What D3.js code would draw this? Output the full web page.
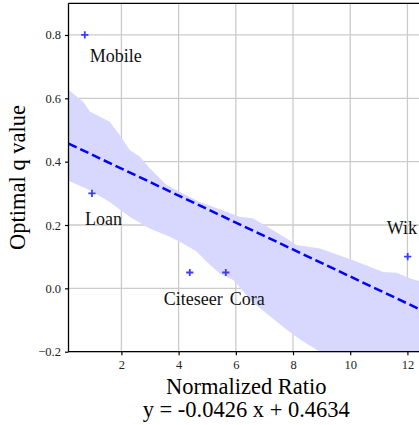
<!DOCTYPE html>
<html>
<head>
<meta charset="utf-8">
<script src="https://cdn.jsdelivr.net/npm/d3@7"></script>
<style>
  body { margin: 0; background: #fff; }
  svg { display: block; font-family: "Times New Roman", "Liberation Serif", serif; }
  .grid line { stroke: #cbcbcb; stroke-width: 1.3; }
  .axis path, .axis line { stroke: #000; stroke-width: 1.2; }
  .axis text { font-size: 12.5px; fill: #222; }
</style>
</head>
<body>
<svg id="chart" width="419" height="425"></svg>
<script>
// datasets (last label is cut by the frame in the original)
let names = ['Mobile', 'Loan', 'Citeseer', 'Cora', 'Wik'];
let ratios = [0.72, 0.97, 4.39, 5.65, 12.01];
let qvalues = [0.80, 0.30, 0.05, 0.05, 0.10];

// fitted line: y = -0.0426 x + 0.4634
let slope = -0.0426;
let intercept = 0.4634;

// confidence band (bootstrap, so edges are bumpy)
let upperX = [0.15, 0.66, 0.9, 1.59, 1.94, 2.29, 2.64, 2.99, 3.58, 4.04, 4.74, 5.44, 6.14, 6.6, 7.77, 8.12, 8.94, 10.1, 11.15, 11.62, 12.08, 12.58];
let upperY = [0.627, 0.589, 0.558, 0.526, 0.484, 0.437, 0.416, 0.379, 0.326, 0.305, 0.273, 0.25, 0.226, 0.221, 0.158, 0.137, 0.126, 0.089, 0.052, 0.049, 0.032, 0.018];
let lowerX = [0.15, 0.9, 1.59, 2.29, 2.99, 3.69, 4.16, 4.63, 4.98, 5.44, 5.91, 6.6, 7.77, 8.3, 8.94, 10.1, 11.15, 12.58];
let lowerY = [0.34, 0.31, 0.273, 0.226, 0.189, 0.163, 0.142, 0.116, 0.084, 0.047, 0.026, -0.045, -0.13, -0.165, -0.2, -0.26, -0.31, -0.38];

let xTicks = [2, 4, 6, 8, 10, 12];
let yTicks = [-0.2, 0.0, 0.2, 0.4, 0.6, 0.8];

let svg = d3.select('#chart');
let plot = {left: 68.5, top: 3.3, right: 424, bottom: 351.7};

let x = d3.scaleLinear().domain([0.15, 12.58]).range([plot.left, plot.right]);
let y = d3.scaleLinear().domain([-0.2, 0.9]).range([plot.bottom, plot.top]);

svg.append('defs').append('clipPath').attr('id', 'clip')
  .append('rect')
  .attr('x', plot.left).attr('y', plot.top)
  .attr('width', plot.right - plot.left).attr('height', plot.bottom - plot.top);

// grid
let grid = svg.append('g').classed('grid', true);
grid.selectAll('.gx').data(xTicks).enter().append('line')
  .attr('x1', d => x(d)).attr('x2', d => x(d))
  .attr('y1', plot.top).attr('y2', plot.bottom);
grid.selectAll('.gy').data(yTicks).enter().append('line')
  .attr('x1', plot.left).attr('x2', plot.right)
  .attr('y1', d => y(d)).attr('y2', d => y(d));

let inner = svg.append('g').attr('clip-path', 'url(#clip)');

// band: upper edge left to right, lower edge back
let bandPts = upperX.map((v, i) => [x(v), y(upperY[i])])
  .concat(lowerX.map((v, i) => [x(v), y(lowerY[i])]).reverse());
inner.append('path')
  .attr('d', d3.line()(bandPts) + 'Z')
  .attr('fill', 'rgb(216,216,255)');

// regression line
let xd = x.domain();
inner.append('path')
  .attr('d', d3.line()(xd.map(v => [x(v), y(slope * v + intercept)])))
  .attr('fill', 'none')
  .attr('stroke', '#0000ff')
  .attr('stroke-width', 2.5)
  .attr('stroke-dasharray', '9,4');

// markers (+)
let m = 3.6;
let marks = inner.selectAll('.pt').data(names).enter().append('g')
  .attr('transform', (d, i) => `translate(${x(ratios[i])},${y(qvalues[i])})`);
marks.append('path')
  .attr('d', `M${-m},0H${m}M0,${-m}V${m}`)
  .attr('stroke', '#3c3cff')
  .attr('stroke-width', 1.8);

// point labels, pixel offsets from each marker
let labelOffsets = {Mobile: [5, 27], Loan: [-7, 32], Citeseer: [-26, 32], Cora: [4, 32], Wik: [-21, -23]};
svg.append('g').selectAll('text').data(names).enter().append('text')
  .attr('x', (d, i) => x(ratios[i]) + labelOffsets[d][0])
  .attr('y', (d, i) => y(qvalues[i]) + labelOffsets[d][1])
  .attr('font-size', '18px')
  .attr('fill', '#111')
  .text(d => d);

// axes (drop d3's sans-serif default so ticks use the serif face)
let xAxis = d3.axisBottom(x).tickValues(xTicks).tickSize(3.5).tickPadding(5).tickFormat(d3.format('d'));
let yAxis = d3.axisLeft(y).tickValues(yTicks).tickSize(3.5).tickPadding(4).tickFormat(d3.format('.1f'));
let gx = svg.append('g').classed('axis', true)
  .attr('transform', `translate(0,${plot.bottom})`).call(xAxis)
  .attr('font-family', null).attr('font-size', null);
gx.select('.domain').remove();
let gy = svg.append('g').classed('axis', true)
  .attr('transform', `translate(${plot.left},0)`).call(yAxis)
  .attr('font-family', null).attr('font-size', null);
gy.select('.domain').remove();

// spines: left, bottom, top (right one falls outside the frame)
let spine = svg.append('g').attr('stroke', '#000').attr('stroke-width', 1.3);
spine.append('line').attr('x1', plot.left).attr('x2', plot.left).attr('y1', plot.top).attr('y2', plot.bottom);
spine.append('line').attr('x1', plot.left).attr('x2', plot.right).attr('y1', plot.bottom).attr('y2', plot.bottom);
spine.append('line').attr('x1', plot.left).attr('x2', plot.right).attr('y1', plot.top).attr('y2', plot.top);
spine.append('line').attr('x1', plot.right).attr('x2', plot.right).attr('y1', plot.top).attr('y2', plot.bottom);

// titles
let midX = (plot.left + plot.right) / 2;
svg.append('text')
  .attr('x', midX).attr('y', 394)
  .attr('text-anchor', 'middle').attr('font-size', '22.5px')
  .text('Normalized Ratio');
svg.append('text')
  .attr('x', midX).attr('y', 417)
  .attr('text-anchor', 'middle').attr('font-size', '22.5px')
  .text('y = -0.0426 x + 0.4634');
svg.append('text')
  .attr('transform', `translate(25,${(plot.top + plot.bottom) / 2}) rotate(-90)`)
  .attr('text-anchor', 'middle').attr('font-size', '22.5px')
  .text('Optimal q value');
</script>
</body>
</html>
